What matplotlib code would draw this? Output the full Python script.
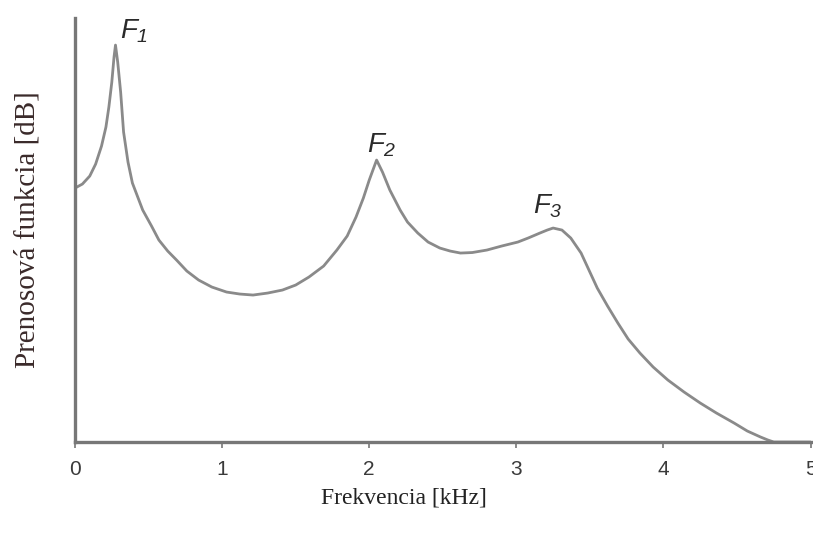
import matplotlib.pyplot as plt

plt.rcParams['mathtext.fontset'] = 'custom'
plt.rcParams['mathtext.it'] = 'Liberation Sans:italic'
plt.rcParams['mathtext.rm'] = 'Liberation Sans:italic'

# frequency response (kHz, relative level)
freq = [0.0, 0.05, 0.10, 0.14, 0.18, 0.21, 0.23, 0.25, 0.265, 0.275, 0.29,
        0.31, 0.33, 0.36, 0.39, 0.46, 0.52, 0.57, 0.63, 0.69, 0.76, 0.84,
        0.93, 1.03, 1.12, 1.21, 1.31, 1.41, 1.50, 1.59, 1.69, 1.78, 1.85,
        1.91, 1.96, 2.00, 2.05, 2.09, 2.14, 2.21, 2.26, 2.33, 2.40, 2.48,
        2.55, 2.62, 2.70, 2.80, 2.90, 3.01, 3.08, 3.16, 3.21, 3.25, 3.31,
        3.37, 3.44, 3.55, 3.62, 3.69, 3.76, 3.84, 3.93, 4.03, 4.14, 4.25,
        4.36, 4.48, 4.57, 4.66, 4.71, 4.75, 5.0]
level = [25.4, 25.8, 26.6, 27.8, 29.6, 31.5, 33.5, 36.0, 38.5, 39.7, 38.0,
         35.0, 31.0, 28.0, 25.9, 23.2, 21.6, 20.2, 19.1, 18.2, 17.1, 16.2,
         15.5, 15.0, 14.8, 14.7, 14.9, 15.2, 15.7, 16.5, 17.6, 19.2, 20.6,
         22.5, 24.4, 26.2, 28.2, 27.0, 25.2, 23.2, 22.0, 20.9, 20.0, 19.4,
         19.1, 18.9, 18.95, 19.2, 19.6, 20.0, 20.4, 20.9, 21.2, 21.4, 21.2,
         20.4, 18.9, 15.4, 13.6, 11.9, 10.3, 8.9, 7.5, 6.2, 5.0, 3.9,
         2.9, 1.9, 1.1, 0.5, 0.2, 0.0, 0.0]

formants = ['$F_1$', '$F_2$', '$F_3$']
formant_x = [0.306, 1.986, 3.116]
formant_y = [40.4, 29.0, 22.9]

fig = plt.figure(figsize=(8.13, 5.38), dpi=100)
ax = fig.add_axes([0.0923, 0.1784, 0.9047, 0.788])

ax.plot(freq, level, color='#8a8a8a', lw=2.0, solid_capstyle='round',
        solid_joinstyle='round')

for lab, fx, fy in zip(formants, formant_x, formant_y):
    ax.text(fx, fy, lab, fontsize=20, color='#2a2a2a', ha='left', va='baseline')

ax.set_xlim(0, 5)
ax.set_ylim(0, 42.4)
ax.set_xticks([0, 1, 2, 3, 4, 5])
ax.set_xticklabels(['0', '1', '2', '3', '4', '5'])
ax.set_yticks([])
for side in ['top', 'right']:
    ax.spines[side].set_visible(False)
for side in ['left', 'bottom']:
    ax.spines[side].set_color('#777777')
    ax.spines[side].set_linewidth(2.4)
ax.tick_params(axis='x', direction='out', length=4, width=1.2, color='#777777',
               labelsize=15, labelcolor='#3a3a3a', pad=9)
for t in ax.get_xticklabels():
    t.set_fontfamily('Liberation Sans')

fig.text(0.497, 0.075, 'Frekvencia [kHz]', ha='center', va='center',
         fontsize=17, fontfamily='Liberation Serif', color='#222222')
fig.text(0.034, 0.573, 'Prenosová funkcia [dB]', ha='center', va='center',
         rotation=90, fontsize=21, fontfamily='Liberation Serif', color='#3a2a2a')

fig.savefig('out.png', dpi=100)
